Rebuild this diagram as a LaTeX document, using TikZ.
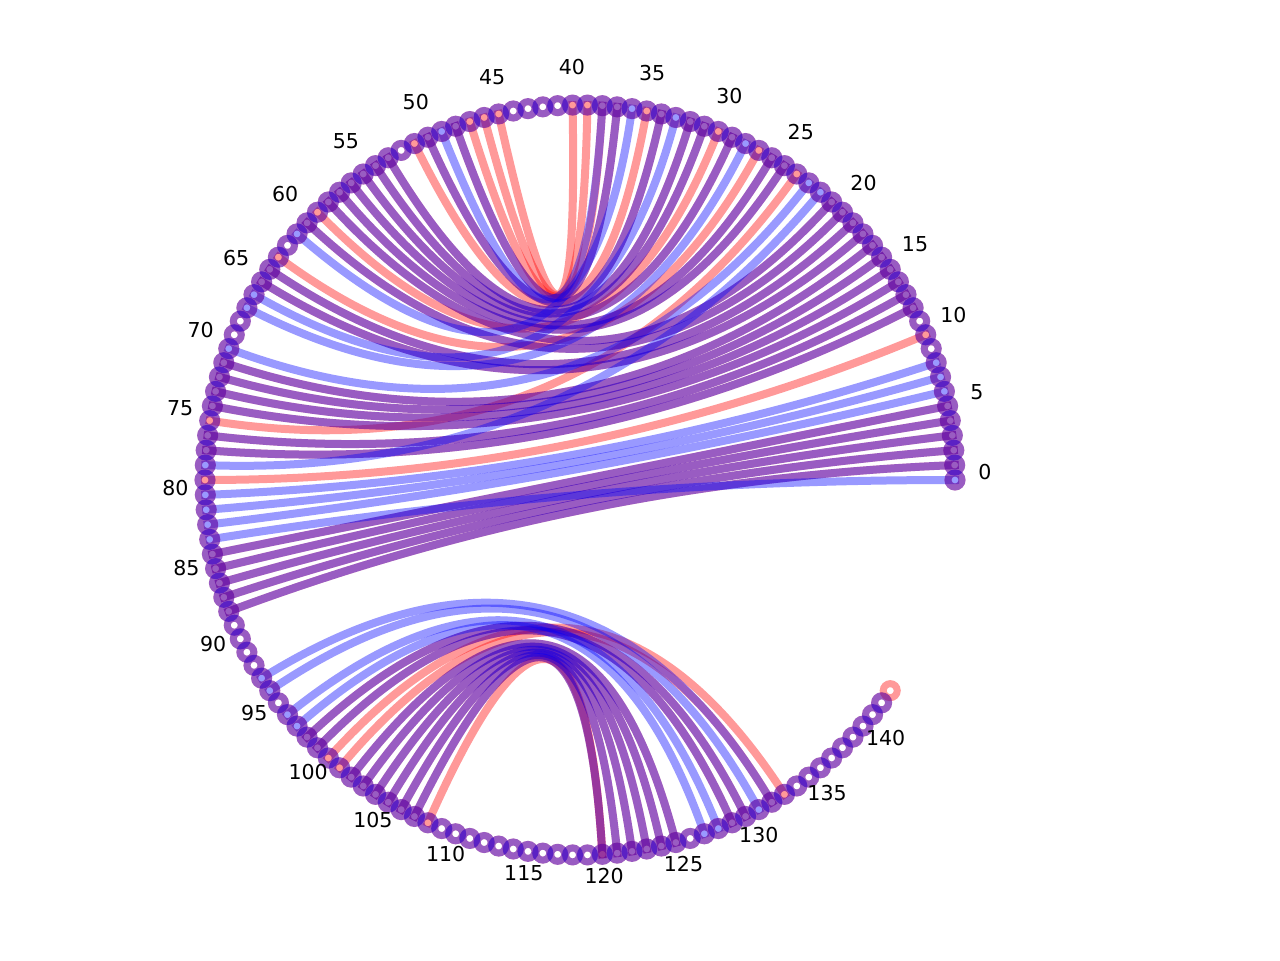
\documentclass[tikz,border=0pt]{standalone}
\usepackage{fontspec}
\setmainfont{DejaVu Sans}
\usetikzlibrary{calc}

% pairs drawn in both colours, red only, blue only
\def\bothpairs{37/48,34/50,32/53,31/54,29/55,26/56,25/57,21/58,20/60,19/64,18/65,17/71,16/72,15/73,14/74,13/76,12/77,5/84,4/85,3/86,2/87,1/88,107/120,106/121,105/122,104/123,103/124,102/125,99/129,98/130}
\def\redpairs{40/45,39/46,38/47,35/51,30/59,27/63,24/75,10/79,108/120,101/132,100/133}
\def\bluepairs{38/49,36/61,33/66,28/67,23/70,22/78,8/80,7/81,6/82,0/83,97/127,96/128,94/131,93/132}
\def\stp{2.278481}

\begin{document}
\begin{tikzpicture}[
  x=0.75pt,y=0.75pt,
  redarc/.style={draw=red,draw opacity=0.4,line width=6pt,line cap=rect},
  bluearc/.style={draw=blue,draw opacity=0.4,line width=6pt,line cap=rect},
  redring/.style={draw=red,draw opacity=0.4,line width=5.25pt},
  bluering/.style={draw=blue,draw opacity=0.4,line width=5.25pt},
  idx/.style={font=\fontsize{15.4}{18}\selectfont,inner sep=0pt}
]
\useasboundingbox (-580,-480) rectangle (700,480);
\coordinate (c) at (0,0);
\foreach \i in {0,...,143}
  \coordinate (n\i) at ({\i*\stp}:375);

% red structure
\foreach \a/\b in \bothpairs
  \draw[redarc] (n\a) .. controls ($(n\a)!2/3!(c)$) and ($(n\b)!2/3!(c)$) .. (n\b);
\foreach \a/\b in \redpairs
  \draw[redarc] (n\a) .. controls ($(n\a)!2/3!(c)$) and ($(n\b)!2/3!(c)$) .. (n\b);

% blue structure
\foreach \a/\b in \bothpairs
  \draw[bluearc] (n\a) .. controls ($(n\a)!2/3!(c)$) and ($(n\b)!2/3!(c)$) .. (n\b);
\foreach \a/\b in \bluepairs
  \draw[bluearc] (n\a) .. controls ($(n\a)!2/3!(c)$) and ($(n\b)!2/3!(c)$) .. (n\b);

% rings
\foreach \i in {0,...,143}
  \draw[redring] (n\i) circle[radius=7];
\foreach \i in {0,...,142}
  \draw[bluering] (n\i) circle[radius=7];

% index labels
\foreach \i in {0,5,...,140}
  \node[idx] (l\i) at ($({\i*\stp}:405)+(0,8)$) {\i};
\end{tikzpicture}
\end{document}
